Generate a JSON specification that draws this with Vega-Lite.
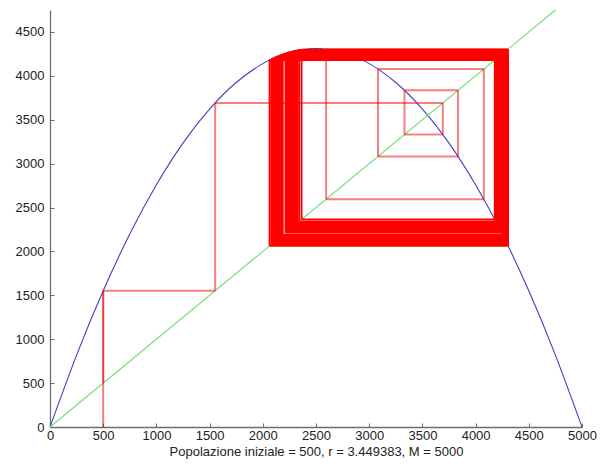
{
  "$schema": "https://vega.github.io/schema/vega-lite/v6.json",
  "width": 532,
  "height": 417,
  "autosize": {"type": "none"},
  "padding": {"left": 50, "top": 10, "right": 18, "bottom": 45},
  "background": "white",
  "config": {
    "view": {"stroke": null},
    "axis": {
      "grid": false,
      "domainColor": "#6e6e6e",
      "domainWidth": 1.3,
      "tickColor": "#6e6e6e",
      "tickWidth": 1,
      "tickSize": -4,
      "labelFont": "Liberation Sans",
      "labelFontSize": 13,
      "labelColor": "#222222",
      "labelFlush": false,
      "labelOverlap": false,
      "format": "d",
      "titleFont": "Liberation Sans",
      "titleFontSize": 13,
      "titleFontWeight": "normal",
      "titleColor": "#222222"
    },
    "axisX": {"labelPadding": 6, "titlePadding": 3},
    "axisY": {"labelPadding": 10}
  },
  "datasets": {
    "curve": [
      {"x": 0, "y": 0}, {"x": 250, "y": 819.23}, {"x": 500, "y": 1552.22}, {"x": 750, "y": 2198.98},
      {"x": 1000, "y": 2759.51}, {"x": 1250, "y": 3233.8}, {"x": 1500, "y": 3621.85}, {"x": 1750, "y": 3923.67},
      {"x": 2000, "y": 4139.26}, {"x": 2250, "y": 4268.61}, {"x": 2500, "y": 4311.73}, {"x": 2750, "y": 4268.61},
      {"x": 3000, "y": 4139.26}, {"x": 3250, "y": 3923.67}, {"x": 3500, "y": 3621.85}, {"x": 3750, "y": 3233.8},
      {"x": 4000, "y": 2759.51}, {"x": 4250, "y": 2198.98}, {"x": 4500, "y": 1552.22}, {"x": 4750, "y": 819.23},
      {"x": 5000, "y": 0}
    ],
    "diag": [{"x": 0, "y": 0}, {"x": 4750, "y": 4750}],
    "start": [{"x": 500, "y": 0, "y2": 1552.22}],
    "early": [
      {"a": 500, "b": 1552.22}, {"a": 1552.22, "b": 3692.0}, {"a": 3692.0, "b": 3331.5}, {"a": 3331.5, "b": 3834.8},
      {"a": 3834.8, "b": 3082.6}, {"a": 3082.6, "b": 4077.6}, {"a": 4077.6, "b": 2594.8}, {"a": 2594.8, "b": 4305.5}
    ],
    "dense": [
      {"a": 4305.5, "b": 2062.8}, {"a": 2062.8, "b": 4179.9}, {"a": 4179.9, "b": 2364.9}, {"a": 2364.9, "b": 4299.1},
      {"a": 4299.1, "b": 2078.7}, {"a": 2078.7, "b": 4189.3}, {"a": 4189.3, "b": 2343.1}, {"a": 2343.1, "b": 4294.7},
      {"a": 4294.7, "b": 2089.6}, {"a": 2089.6, "b": 4195.5}, {"a": 4195.5, "b": 2328.5}, {"a": 2328.5, "b": 4291.4},
      {"a": 4291.4, "b": 2097.8}, {"a": 2097.8, "b": 4200.1}, {"a": 4200.1, "b": 2317.8}, {"a": 2317.8, "b": 4288.8},
      {"a": 4288.8, "b": 2104.2}, {"a": 2104.2, "b": 4203.6}, {"a": 4203.6, "b": 2309.4}, {"a": 2309.4, "b": 4286.7},
      {"a": 4286.7, "b": 2109.5}, {"a": 2109.5, "b": 4206.5}, {"a": 4206.5, "b": 2302.6}, {"a": 2302.6, "b": 4284.9},
      {"a": 4284.9, "b": 2114.0}, {"a": 2114.0, "b": 4208.9}, {"a": 4208.9, "b": 2297.0}, {"a": 2297.0, "b": 4283.3},
      {"a": 4283.3, "b": 2117.8},
      {"a": 2118, "b": 4211.06}, {"a": 4211.06, "b": 2291.95}, {"a": 2291.95, "b": 4281.87}, {"a": 4281.87, "b": 2121.32},
      {"a": 2124, "b": 4214.2}, {"a": 4214.2, "b": 2284.53}, {"a": 2284.53, "b": 4279.7}, {"a": 4279.7, "b": 2126.65},
      {"a": 2130, "b": 4217.29}, {"a": 4217.29, "b": 2277.21}, {"a": 2277.21, "b": 4277.49}, {"a": 4277.49, "b": 2132.07},
      {"a": 2136, "b": 4220.32}, {"a": 4220.32, "b": 2270.03}, {"a": 2270.03, "b": 4275.25}, {"a": 4275.25, "b": 2137.56},
      {"a": 2142, "b": 4223.31}, {"a": 4223.31, "b": 2262.93}, {"a": 2262.93, "b": 4272.96}, {"a": 4272.96, "b": 2143.17},
      {"a": 2148, "b": 4226.25}, {"a": 4226.25, "b": 2255.93}, {"a": 2255.93, "b": 4270.63}, {"a": 4270.63, "b": 2148.87},
      {"a": 2154, "b": 4229.14}, {"a": 4229.14, "b": 2249.04}, {"a": 2249.04, "b": 4268.28}, {"a": 4268.28, "b": 2154.6},
      {"a": 2160, "b": 4231.98}, {"a": 4231.98, "b": 2242.26}, {"a": 2242.26, "b": 4265.9}, {"a": 4265.9, "b": 2160.41},
      {"a": 2166, "b": 4234.77}, {"a": 4234.77, "b": 2235.59}, {"a": 2235.59, "b": 4263.5}, {"a": 4263.5, "b": 2166.25},
      {"a": 2172, "b": 4237.51}, {"a": 4237.51, "b": 2229.02}, {"a": 2229.02, "b": 4261.07}, {"a": 4261.07, "b": 2172.16},
      {"a": 2178, "b": 4240.2}, {"a": 4240.2, "b": 2222.57}, {"a": 2222.57, "b": 4258.63}, {"a": 4258.63, "b": 2178.08},
      {"a": 2183, "b": 4242.41}, {"a": 4242.41, "b": 2217.26}, {"a": 2217.26, "b": 4256.58}, {"a": 4256.58, "b": 2183.05},
      {"a": 2187, "b": 4244.14}, {"a": 4244.14, "b": 2213.1}, {"a": 2213.1, "b": 4254.95}, {"a": 4254.95, "b": 2187.0}
    ]
  },
  "layer": [
    {
      "data": {"name": "curve"},
      "mark": {"type": "line", "color": "#4040c0", "strokeWidth": 1.1, "interpolate": "natural"},
      "encoding": {
        "x": {"field": "x", "type": "quantitative", "title": "Popolazione iniziale = 500, r = 3.449383, M = 5000",
              "scale": {"domain": [0, 5000], "nice": false, "zero": false},
              "axis": {"values": [0, 500, 1000, 1500, 2000, 2500, 3000, 3500, 4000, 4500, 5000]}},
        "y": {"field": "y", "type": "quantitative", "title": null,
              "scale": {"domain": [0, 4750], "nice": false, "zero": false},
              "axis": {"values": [0, 500, 1000, 1500, 2000, 2500, 3000, 3500, 4000, 4500]}}
      }
    },
    {
      "data": {"name": "diag"},
      "mark": {"type": "line", "color": "#74dc74", "strokeWidth": 1.1},
      "encoding": {
        "x": {"field": "x", "type": "quantitative", "title": "Popolazione iniziale = 500, r = 3.449383, M = 5000"},
        "y": {"field": "y", "type": "quantitative", "title": null}
      }
    },
    {
      "data": {"name": "start"},
      "mark": {"type": "rule", "color": "#e00000", "strokeWidth": 2, "opacity": 0.5},
      "encoding": {
        "x": {"field": "x", "type": "quantitative", "title": "Popolazione iniziale = 500, r = 3.449383, M = 5000"},
        "y": {"field": "y", "type": "quantitative", "title": null},
        "y2": {"field": "y2"}
      }
    },
    {
      "data": {"name": "early"},
      "mark": {"type": "rule", "color": "#f00000", "strokeWidth": 2, "opacity": 0.5},
      "encoding": {
        "x": {"field": "a", "type": "quantitative", "title": "Popolazione iniziale = 500, r = 3.449383, M = 5000"},
        "y": {"field": "a", "type": "quantitative", "title": null},
        "y2": {"field": "b"}
      }
    },
    {
      "data": {"name": "early"},
      "mark": {"type": "rule", "color": "#f00000", "strokeWidth": 2, "opacity": 0.5},
      "encoding": {
        "x": {"field": "a", "type": "quantitative", "title": "Popolazione iniziale = 500, r = 3.449383, M = 5000"},
        "x2": {"field": "b"},
        "y": {"field": "b", "type": "quantitative", "title": null}
      }
    },
    {
      "data": {"name": "dense"},
      "mark": {"type": "rule", "color": "#ff0000", "strokeWidth": 1.8},
      "encoding": {
        "x": {"field": "a", "type": "quantitative", "title": "Popolazione iniziale = 500, r = 3.449383, M = 5000"},
        "y": {"field": "a", "type": "quantitative", "title": null},
        "y2": {"field": "b"}
      }
    },
    {
      "data": {"name": "dense"},
      "mark": {"type": "rule", "color": "#ff0000", "strokeWidth": 1.8},
      "encoding": {
        "x": {"field": "a", "type": "quantitative", "title": "Popolazione iniziale = 500, r = 3.449383, M = 5000"},
        "x2": {"field": "b"},
        "y": {"field": "b", "type": "quantitative", "title": null}
      }
    }
  ]
}
